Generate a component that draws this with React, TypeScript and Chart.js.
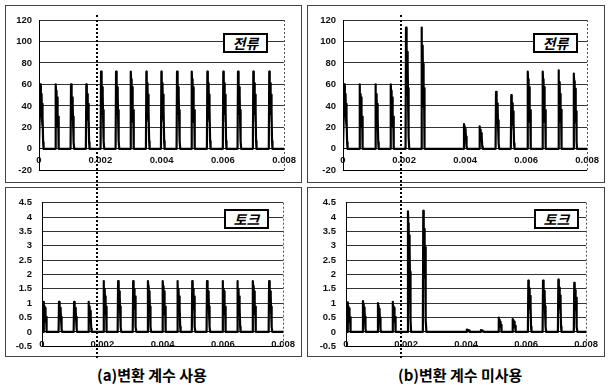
import React, { useEffect, useRef } from "react";
import { Chart, registerables } from "chart.js";

Chart.register(...registerables);

// ---------- data ----------
const TIME_TICKS = [0, 0.002, 0.004, 0.006, 0.008];
const TIME_TICK_LABELS = ["0", "0.002", "0.004", "0.006", "0.008"];

const CURRENT_TICKS = [-20, 0, 20, 40, 60, 80, 100, 120];
const CURRENT_TICK_LABELS = ["-20", "0", "20", "40", "60", "80", "100", "120"];
const TORQUE_TICKS = [-0.5, 0, 0.5, 1, 1.5, 2, 2.5, 3, 3.5, 4, 4.5];
const TORQUE_TICK_LABELS = ["-0.5", "0", "0.5", "1", "1.5", "2", "2.5", "3", "3.5", "4", "4.5"];

// shape of one switching pulse (time offset in s, fraction of the peak)
const PULSE_OFFSETS = [-0.00006, -0.000045, -0.000035, -0.000025, -0.000017, -0.000009, 0, 0.000009, 0.000017, 0.000025, 0.000035, 0.000045, 0.00006];
const PULSE_SHAPE = [0, 1.0, 0.9, 0.55, 0.85, 0.5, 0.8, 0.45, 0.7, 0.35, 0.5, 0.1, 0];

// (a) with conversion factor — current
const CURRENT_A_TIMES = [0.00009, 0.00059, 0.00109, 0.00159, 0.00207, 0.00256, 0.00304, 0.00355, 0.00404, 0.00455, 0.00503, 0.00554, 0.00606, 0.00654, 0.00704, 0.00756];
const CURRENT_A_PEAKS = [60, 60, 60, 60, 72, 72, 72, 72, 72, 72, 72, 72, 72, 72, 72, 72];
// (b) without conversion factor — current
const CURRENT_B_TIMES = [0.00009, 0.00059, 0.00111, 0.00161, 0.00211, 0.00262, 0.00401, 0.00452, 0.00506, 0.00556, 0.0061, 0.00659, 0.00711, 0.00761];
const CURRENT_B_PEAKS = [60, 60, 60, 60, 113, 113, 23, 21, 53, 50, 72, 72, 73, 70];
// (a) torque
const TORQUE_A_TIMES = [0.0001, 0.00061, 0.00111, 0.00159, 0.00209, 0.00257, 0.00307, 0.00356, 0.00405, 0.00454, 0.00503, 0.00552, 0.00604, 0.00653, 0.00704, 0.00758];
const TORQUE_A_PEAKS = [1.05, 1.05, 1.05, 1.05, 1.77, 1.77, 1.77, 1.77, 1.77, 1.77, 1.77, 1.77, 1.77, 1.77, 1.77, 1.77];
// (b) torque
const TORQUE_B_TIMES = [0.0001, 0.00061, 0.00111, 0.0016, 0.00211, 0.00262, 0.00407, 0.00454, 0.00513, 0.0056, 0.00612, 0.00661, 0.00712, 0.00765];
const TORQUE_B_PEAKS = [1.03, 1.07, 1.0, 1.05, 4.2, 4.22, 0.08, 0.06, 0.5, 0.45, 1.79, 1.79, 1.82, 1.71];

// ---------- helpers ----------
function buildWave(times: number[], peaks: number[]) {
  const pts: { x: number; y: number }[] = [{ x: 0, y: 0 }];
  times.forEach((t, i) => {
    PULSE_OFFSETS.forEach((o, j) => {
      pts.push({ x: t + o, y: peaks[i] * PULSE_SHAPE[j] });
    });
  });
  pts.push({ x: 0.008, y: 0 });
  return pts;
}

const TICK_FONT = { family: "'Liberation Sans', Arial, sans-serif", size: 9.5, weight: "bold" };

const edgePlugin = {
  id: "edgePlugin",
  afterDraw(chart: any) {
    const { ctx, chartArea } = chart;
    ctx.save();
    ctx.strokeStyle = "#555";
    ctx.lineWidth = 1;
    ctx.setLineDash([2, 2]);
    ctx.beginPath();
    ctx.moveTo(Math.round(chartArea.right) + 0.5, chartArea.top);
    ctx.lineTo(Math.round(chartArea.right) + 0.5, chartArea.bottom);
    ctx.stroke();
    ctx.restore();
  },
};

type PanelProps = {
  left: number;
  top: number;
  width: number;
  height: number;
  times: number[];
  peaks: number[];
  yTicks: number[];
  yLabels: string[];
  yAxisWidth: number;
  yLabelPad: number;
  xLabelPad: number;
  padding: { top: number; right: number; bottom: number; left: number };
};

function Panel(p: PanelProps) {
  const ref = useRef<HTMLCanvasElement>(null);
  useEffect(() => {
    if (!ref.current) return;
    const chart = new Chart(ref.current, {
      type: "line",
      data: {
        datasets: [
          {
            data: buildWave(p.times, p.peaks),
            borderColor: "#000",
            borderWidth: 2.2,
            pointRadius: 0,
            tension: 0,
            fill: false,
            borderJoinStyle: "round",
          },
        ],
      },
      options: {
        animation: false,
        responsive: false,
        devicePixelRatio: 1,
        layout: { padding: p.padding },
        plugins: { legend: { display: false }, tooltip: { enabled: false } },
        scales: {
          x: {
            type: "linear",
            min: 0,
            max: 0.008,
            position: { y: 0 } as any,
            afterBuildTicks: (s: any) => {
              s.ticks = TIME_TICKS.map((v) => ({ value: v }));
            },
            ticks: {
              autoSkip: false,
              maxRotation: 0,
              padding: p.xLabelPad,
              font: TICK_FONT,
              color: "#111",
              callback: (_v: any, i: number) => TIME_TICK_LABELS[i],
            },
            grid: { display: false, drawTicks: false },
            border: { display: true, color: "#000", width: 1 },
          },
          y: {
            type: "linear",
            min: p.yTicks[0],
            max: p.yTicks[p.yTicks.length - 1],
            afterBuildTicks: (s: any) => {
              s.ticks = p.yTicks.map((v) => ({ value: v }));
            },
            afterFit: (s: any) => {
              s.width = p.yAxisWidth;
            },
            ticks: {
              padding: p.yLabelPad,
              font: TICK_FONT,
              color: "#111",
              callback: (_v: any, i: number) => p.yLabels[i],
            },
            grid: {
              drawTicks: false,
              lineWidth: 1,
              color: (c: any) => (c.index === 0 ? "#000" : "#333"),
            },
            border: { display: true, color: "#000", width: 1 },
          },
        },
      } as any,
      plugins: [edgePlugin],
    });
    return () => chart.destroy();
  }, []);
  return (
    <canvas
      ref={ref}
      width={p.width}
      height={p.height}
      style={{ position: "absolute", left: p.left, top: p.top, width: p.width, height: p.height }}
    />
  );
}

function Box(props: { left: number; top: number; w: number; h: number }) {
  return (
    <div
      style={{
        position: "absolute",
        left: props.left,
        top: props.top,
        width: props.w,
        height: props.h,
        border: "1px solid #444",
        boxSizing: "border-box",
      }}
    />
  );
}

function Tag(props: { left: number; top: number; text: string }) {
  return (
    <div
      style={{
        position: "absolute",
        left: props.left,
        top: props.top,
        width: 45,
        height: 20,
        boxSizing: "border-box",
        border: "2px solid #000",
        background: "#fff",
        fontFamily: "'Noto Sans CJK KR', sans-serif",
        fontStyle: "italic",
        fontWeight: 700,
        fontSize: 14,
        lineHeight: "16px",
        textAlign: "center",
        color: "#000",
        zIndex: 3,
      }}
    >
      {props.text}
    </div>
  );
}

export default function App() {
  const captionStyle: React.CSSProperties = {
    position: "absolute",
    top: 366,
    fontFamily: "'Noto Sans CJK KR', sans-serif",
    fontWeight: 700,
    fontSize: 15,
    lineHeight: "18px",
    color: "#000",
    whiteSpace: "nowrap",
  };
  const dotted: React.CSSProperties = {
    position: "absolute",
    top: 15,
    height: 343,
    width: 0,
    borderLeft: "2px dotted #000",
    zIndex: 4,
  };
  return (
    <div style={{ position: "absolute", left: 0, top: 0, width: 608, height: 387, background: "#fff", overflow: "hidden" }}>
      <Box left={5} top={5} w={297} h={178} />
      <Box left={307} top={5} w={298} h={178} />
      <Box left={5} top={187} w={297} h={170} />
      <Box left={307} top={187} w={298} h={170} />

      <Panel left={5} top={5} width={297} height={178} times={CURRENT_A_TIMES} peaks={CURRENT_A_PEAKS}
        yTicks={CURRENT_TICKS} yLabels={CURRENT_TICK_LABELS} yAxisWidth={34} yLabelPad={7} xLabelPad={6}
        padding={{ top: 15, right: 15, bottom: 10, left: 0 }} />
      <Panel left={307} top={5} width={298} height={178} times={CURRENT_B_TIMES} peaks={CURRENT_B_PEAKS}
        yTicks={CURRENT_TICKS} yLabels={CURRENT_TICK_LABELS} yAxisWidth={36} yLabelPad={7} xLabelPad={6}
        padding={{ top: 15, right: 14, bottom: 10, left: 0 }} />
      <Panel left={5} top={187} width={297} height={175} times={TORQUE_A_TIMES} peaks={TORQUE_A_PEAKS}
        yTicks={TORQUE_TICKS} yLabels={TORQUE_TICK_LABELS} yAxisWidth={37} yLabelPad={10} xLabelPad={7}
        padding={{ top: 15, right: 15, bottom: 11, left: 0 }} />
      <Panel left={307} top={187} width={298} height={175} times={TORQUE_B_TIMES} peaks={TORQUE_B_PEAKS}
        yTicks={TORQUE_TICKS} yLabels={TORQUE_TICK_LABELS} yAxisWidth={39} yLabelPad={10} xLabelPad={7}
        padding={{ top: 15, right: 14, bottom: 11, left: 0 }} />

      <Tag left={223} top={33} text="전류" />
      <Tag left={533} top={33} text="전류" />
      <Tag left={224} top={209} text="토크" />
      <Tag left={534} top={209} text="토크" />

      <div style={{ ...dotted, left: 96 }} />
      <div style={{ ...dotted, left: 400 }} />

      <div style={{ ...captionStyle, left: 97 }}>(a)변환 계수 사용</div>
      <div style={{ ...captionStyle, left: 398 }}>(b)변환 계수 미사용</div>
    </div>
  );
}
